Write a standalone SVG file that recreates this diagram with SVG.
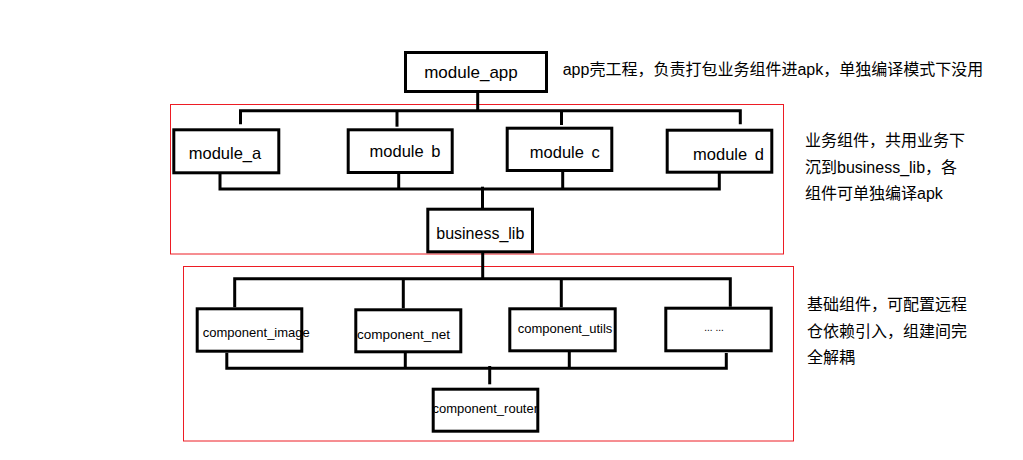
<svg xmlns="http://www.w3.org/2000/svg" width="1023" height="460" viewBox="0 0 1023 460">
<style>
  .box { fill: #fff; stroke: #000; stroke-width: 3; }
  .grp { fill: none; stroke: #ED1C24; stroke-width: 1; }
  .ln { fill: none; stroke: #000; stroke-width: 3; stroke-linejoin: miter; stroke-linecap: butt; }
  .t { font-family: "Liberation Sans", "Noto Sans CJK SC", sans-serif; fill: #000; text-anchor: middle; }
  .note { font-family: "Liberation Sans", "Noto Sans CJK SC", sans-serif; fill: #000; font-size: 16px; }
</style>
<rect width="1023" height="460" fill="#fff"/>

<g id="groups">
  <rect class="grp" x="170.5" y="104.5" width="613" height="149.5"/>
  <rect class="grp" x="183.5" y="266.5" width="610" height="174.5"/>
</g>

<g id="connectors">
  <path class="ln" d="M477.7 92 V112"/>
  <path class="ln" d="M240.5 124.3 V110.8 H740.3 V124.3"/>
  <path class="ln" d="M397 110.8 V126.7"/>
  <path class="ln" d="M561.5 110.8 V125"/>
  <path class="ln" d="M220 174 V189 H719.3 V171"/>
  <path class="ln" d="M398.7 174 V189"/>
  <path class="ln" d="M562.7 172 V189"/>
  <path class="ln" d="M482.5 186.7 V208"/>
  <path class="ln" d="M482.7 253 V278.7"/>
  <path class="ln" d="M234.7 307.3 V278.7 H730.3 V306.7"/>
  <path class="ln" d="M403.3 278.7 V308.3"/>
  <path class="ln" d="M561.3 278.7 V307.3"/>
  <path class="ln" d="M226.8 352.7 V368.3 H726.3 V353"/>
  <path class="ln" d="M405.3 353 V368.3"/>
  <path class="ln" d="M569.3 352 V368.3"/>
  <path class="ln" d="M489.7 366 V384.3"/>
</g>

<g id="module_app">
  <rect class="box" x="405.5" y="52.5" width="141" height="39"/>
  <text class="t" x="471" y="78.3" font-size="17">module_app</text>
</g>
<g id="module_a">
  <rect class="box" x="173.8" y="129.8" width="105" height="43"/>
  <text class="t" x="225" y="159.3" font-size="16.5">module_a</text>
</g>
<g id="module_b">
  <rect class="box" x="348.2" y="129.8" width="104" height="42.7"/>
  <text class="t" x="405" y="157" font-size="16.5" word-spacing="3">module b</text>
</g>
<g id="module_c">
  <rect class="box" x="507.2" y="128.2" width="104.6" height="42.3"/>
  <text class="t" x="564.8" y="158.3" font-size="16.5" word-spacing="3">module c</text>
</g>
<g id="module_d">
  <rect class="box" x="667.2" y="130.2" width="104.6" height="42"/>
  <text class="t" x="728.5" y="160" font-size="16.5" word-spacing="3">module d</text>
</g>
<g id="business_lib">
  <rect class="box" x="427.8" y="209.2" width="104.7" height="42.6"/>
  <text class="t" x="480.3" y="239" font-size="16">business_lib</text>
</g>
<g id="component_image">
  <rect class="box" x="197.2" y="308.8" width="104.6" height="42.4"/>
  <text class="t" x="256.3" y="336.7" font-size="13">component_image</text>
</g>
<g id="component_net">
  <rect class="box" x="355.8" y="309.8" width="105" height="42"/>
  <text class="t" x="403.5" y="339.3" font-size="13.5">component_net</text>
</g>
<g id="component_utils">
  <rect class="box" x="509.8" y="308.8" width="105.4" height="42"/>
  <text class="t" x="565" y="333.3" font-size="13">component_utils</text>
</g>
<g id="component_more">
  <rect class="box" x="665.8" y="308.2" width="105.4" height="42.6"/>
  <text class="t" x="714" y="331" font-size="10">... ...</text>
</g>
<g id="component_router">
  <rect class="box" x="433.2" y="389.2" width="104.6" height="42"/>
  <text class="t" x="485.3" y="412.7" font-size="13">component_router</text>
</g>

<g id="notes">
  <text class="note" x="562.7" y="75">app壳工程，负责打包业务组件进apk，单独编译模式下没用</text>
  <text class="note" x="805" y="146">业务组件，共用业务下</text>
  <text class="note" x="805" y="172.5">沉到business_lib，各</text>
  <text class="note" x="805" y="199">组件可单独编译apk</text>
  <text class="note" x="807" y="310">基础组件，可配置远程</text>
  <text class="note" x="807" y="336.5">仓依赖引入，组建间完</text>
  <text class="note" x="807" y="363">全解耦</text>
</g>
</svg>
